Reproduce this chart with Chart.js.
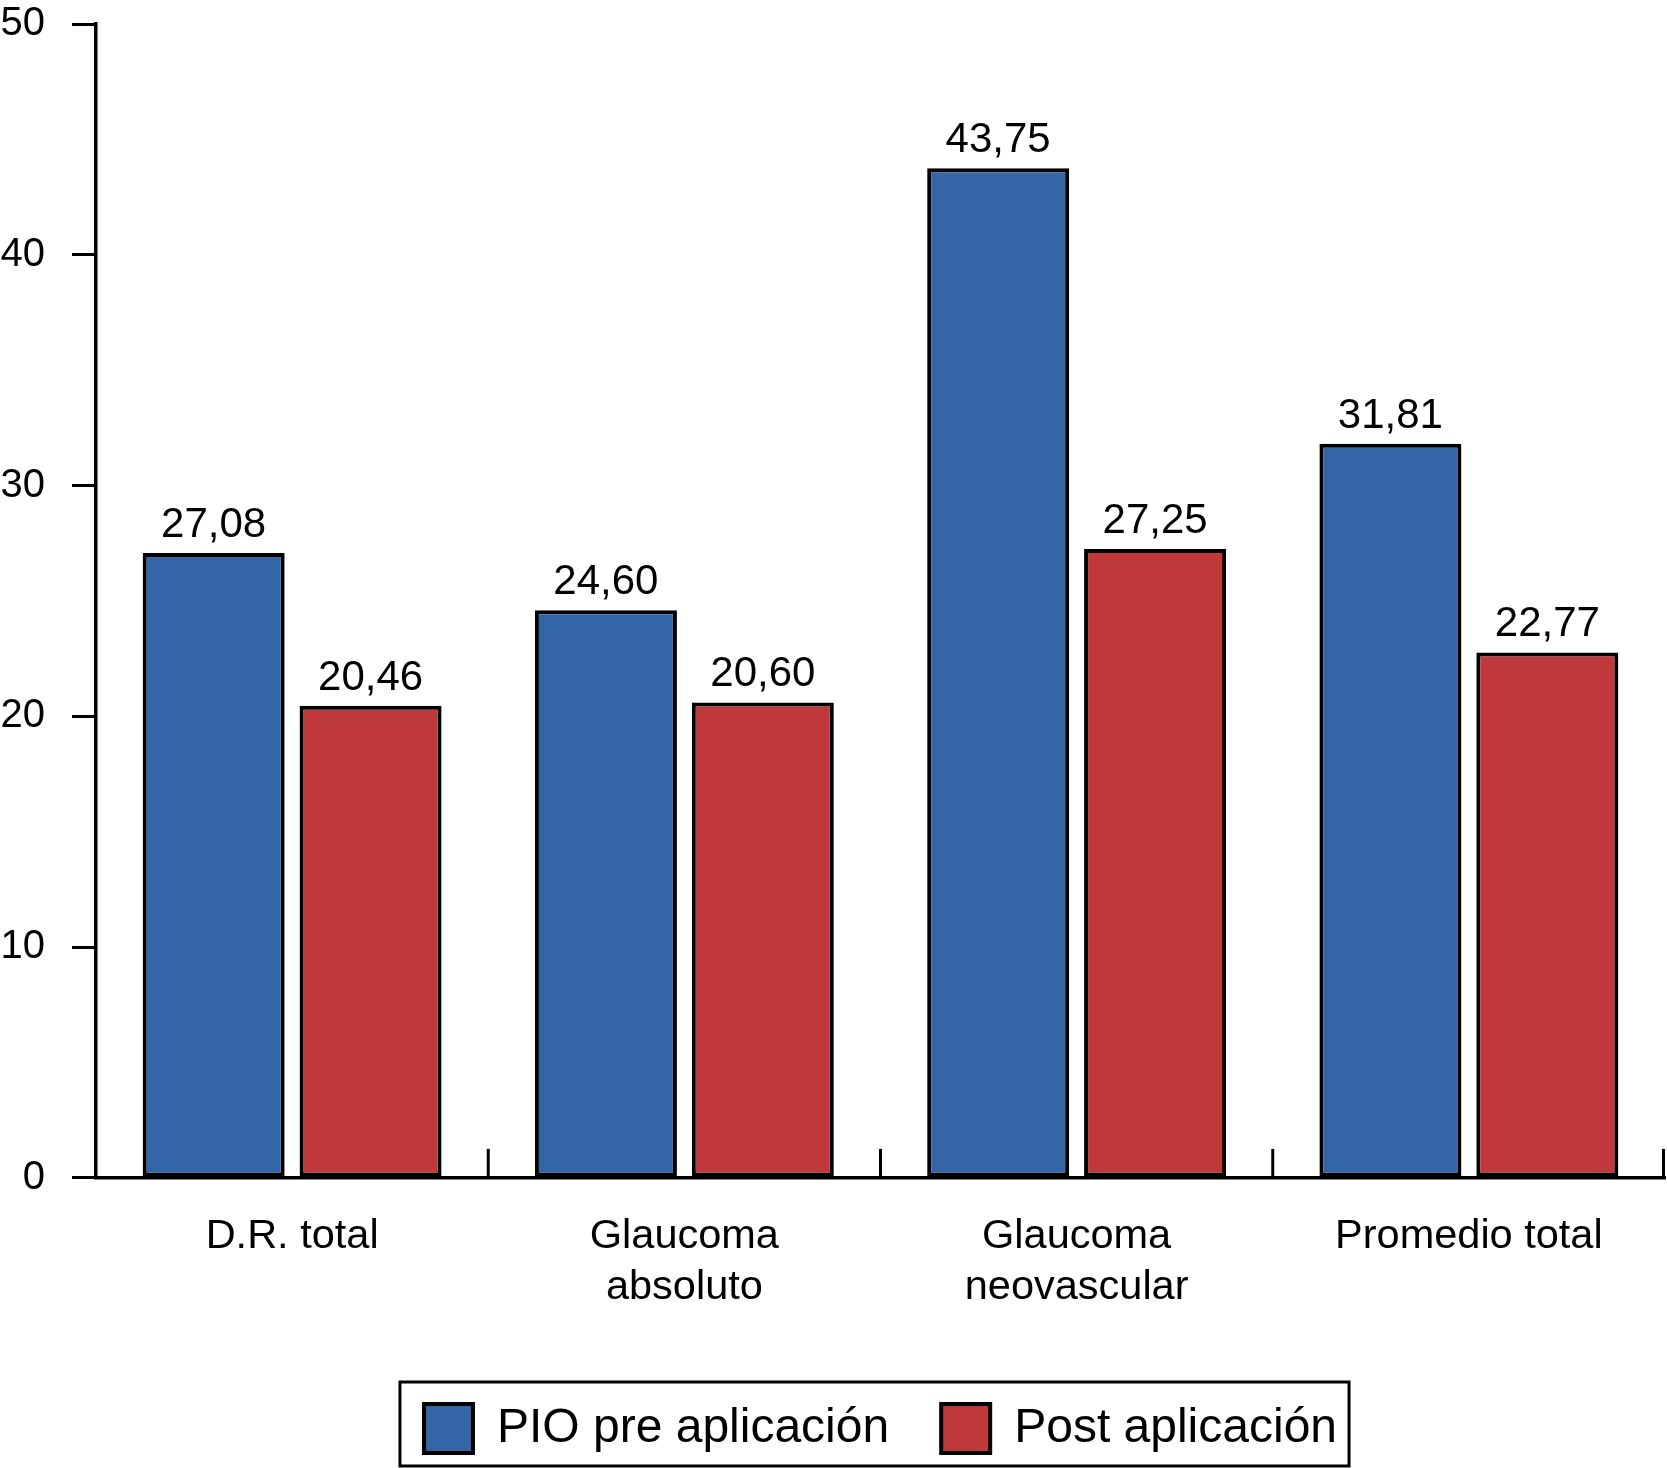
<!DOCTYPE html>
<html lang="es">
<head>
  <meta charset="UTF-8" />
  <title>PIO pre y post aplicación</title>
  <script src="https://cdn.jsdelivr.net/npm/chart.js"></script>
  <style>
    html, body { margin: 0; padding: 0; background: #fff; }
    canvas { display: block; }
  </style>
</head>
<body>

<canvas id="graficoPIO" width="1667" height="1468"></canvas>

<script>
  // datos
  const categorias = ['D.R. total', ['Glaucoma', 'absoluto'], ['Glaucoma', 'neovascular'], 'Promedio total'];
  const pioPre = [27.08, 24.60, 43.75, 31.81];
  const pioPost = [20.46, 20.60, 27.25, 22.77];
  const series = ['PIO pre aplicación', 'Post aplicación'];
  const ejeY = { min: 0, max: 50, paso: 10 };

  const azul = '#3466a7';
  const rojo = '#c0393a';

  Chart.defaults.font.family = "'Liberation Sans', Arial, Helvetica, sans-serif";
  Chart.defaults.color = '#000';

  // valores encima de cada barra, con coma decimal
  const etiquetasValor = {
    id: 'etiquetasValor',
    afterDatasetsDraw(chart) {
      const ctx = chart.ctx;
      ctx.save();
      ctx.font = "42px 'Liberation Sans', Arial, sans-serif";
      ctx.fillStyle = '#000';
      ctx.textAlign = 'center';
      ctx.textBaseline = 'alphabetic';
      chart.data.datasets.forEach((ds, i) => {
        chart.getDatasetMeta(i).data.forEach((bar, j) => {
          ctx.fillText(ds.data[j].toFixed(2).replace('.', ','), bar.x, bar.y - 16);
        });
      });
      ctx.restore();
    }
  };

  // marcas hacia arriba entre categorías
  const separadores = {
    id: 'separadores',
    afterDraw(chart) {
      const xs = chart.scales.x;
      const ctx = chart.ctx;
      ctx.save();
      ctx.strokeStyle = '#000';
      ctx.lineWidth = 3;
      for (let i = 1; i <= categorias.length; i++) {
        const x = Math.min(xs.getPixelForValue(i - 0.5), xs.right - 1.5);
        ctx.beginPath();
        ctx.moveTo(x, xs.top);
        ctx.lineTo(x, xs.top - 29);
        ctx.stroke();
      }
      ctx.restore();
    }
  };

  // marco alrededor de la leyenda
  const marcoLeyenda = {
    id: 'marcoLeyenda',
    afterDraw(chart) {
      const cajas = chart.legend.legendHitBoxes;
      if (!cajas || !cajas.length) return;
      const izq = Math.min(...cajas.map(c => c.left));
      const der = Math.max(...cajas.map(c => c.left + c.width));
      const arr = Math.min(...cajas.map(c => c.top));
      const aba = Math.max(...cajas.map(c => c.top + c.height));
      const ctx = chart.ctx;
      ctx.save();
      ctx.strokeStyle = '#000';
      ctx.lineWidth = 3;
      ctx.strokeRect(izq - 24, arr - 22, (der - izq) + 36, (aba - arr) + 35);
      ctx.restore();
    }
  };

  new Chart(document.getElementById('graficoPIO').getContext('2d'), {
    type: 'bar',
    data: {
      labels: categorias,
      datasets: [
        { label: series[0], data: pioPre, backgroundColor: azul, borderColor: '#000', borderWidth: 4, borderSkipped: false },
        { label: series[1], data: pioPost, backgroundColor: rojo, borderColor: '#000', borderWidth: 4, borderSkipped: false }
      ]
    },
    options: {
      responsive: false,
      devicePixelRatio: 1,
      animation: false,
      categoryPercentage: 0.80,
      barPercentage: 0.905,
      layout: { padding: { top: 0, right: 2, left: 0, bottom: 5 } },
      plugins: {
        legend: {
          position: 'bottom',
          fullSize: false,
          labels: {
            font: { size: 48 },
            color: '#000',
            boxWidth: 49,
            boxHeight: 49,
            padding: 52
          }
        },
        tooltip: { enabled: false }
      },
      scales: {
        x: {
          grid: { display: false, drawTicks: false },
          border: { display: true, color: '#000', width: 3.5 },
          ticks: { font: { size: 41.5, lineHeight: 1.23 }, color: '#000', padding: 33, maxRotation: 0 },
          title: { display: true, text: '', font: { size: 5 }, padding: 0 },
          afterFit(escala) {
            escala.paddingLeft = 0;
            escala.paddingRight = 0;
          }
        },
        y: {
          min: ejeY.min,
          max: ejeY.max,
          grid: { display: true, drawOnChartArea: false, drawTicks: true, tickLength: 24, color: '#000', lineWidth: 3 },
          border: { display: true, color: '#000', width: 3.5 },
          ticks: { stepSize: ejeY.paso, font: { size: 40 }, color: '#000', padding: 27 },
          afterFit(escala) {
            escala.width = 96;
            escala.paddingTop = 24;
            escala.paddingBottom = 0;
          }
        }
      }
    },
    plugins: [etiquetasValor, separadores, marcoLeyenda]
  });
</script>

</body>
</html>
